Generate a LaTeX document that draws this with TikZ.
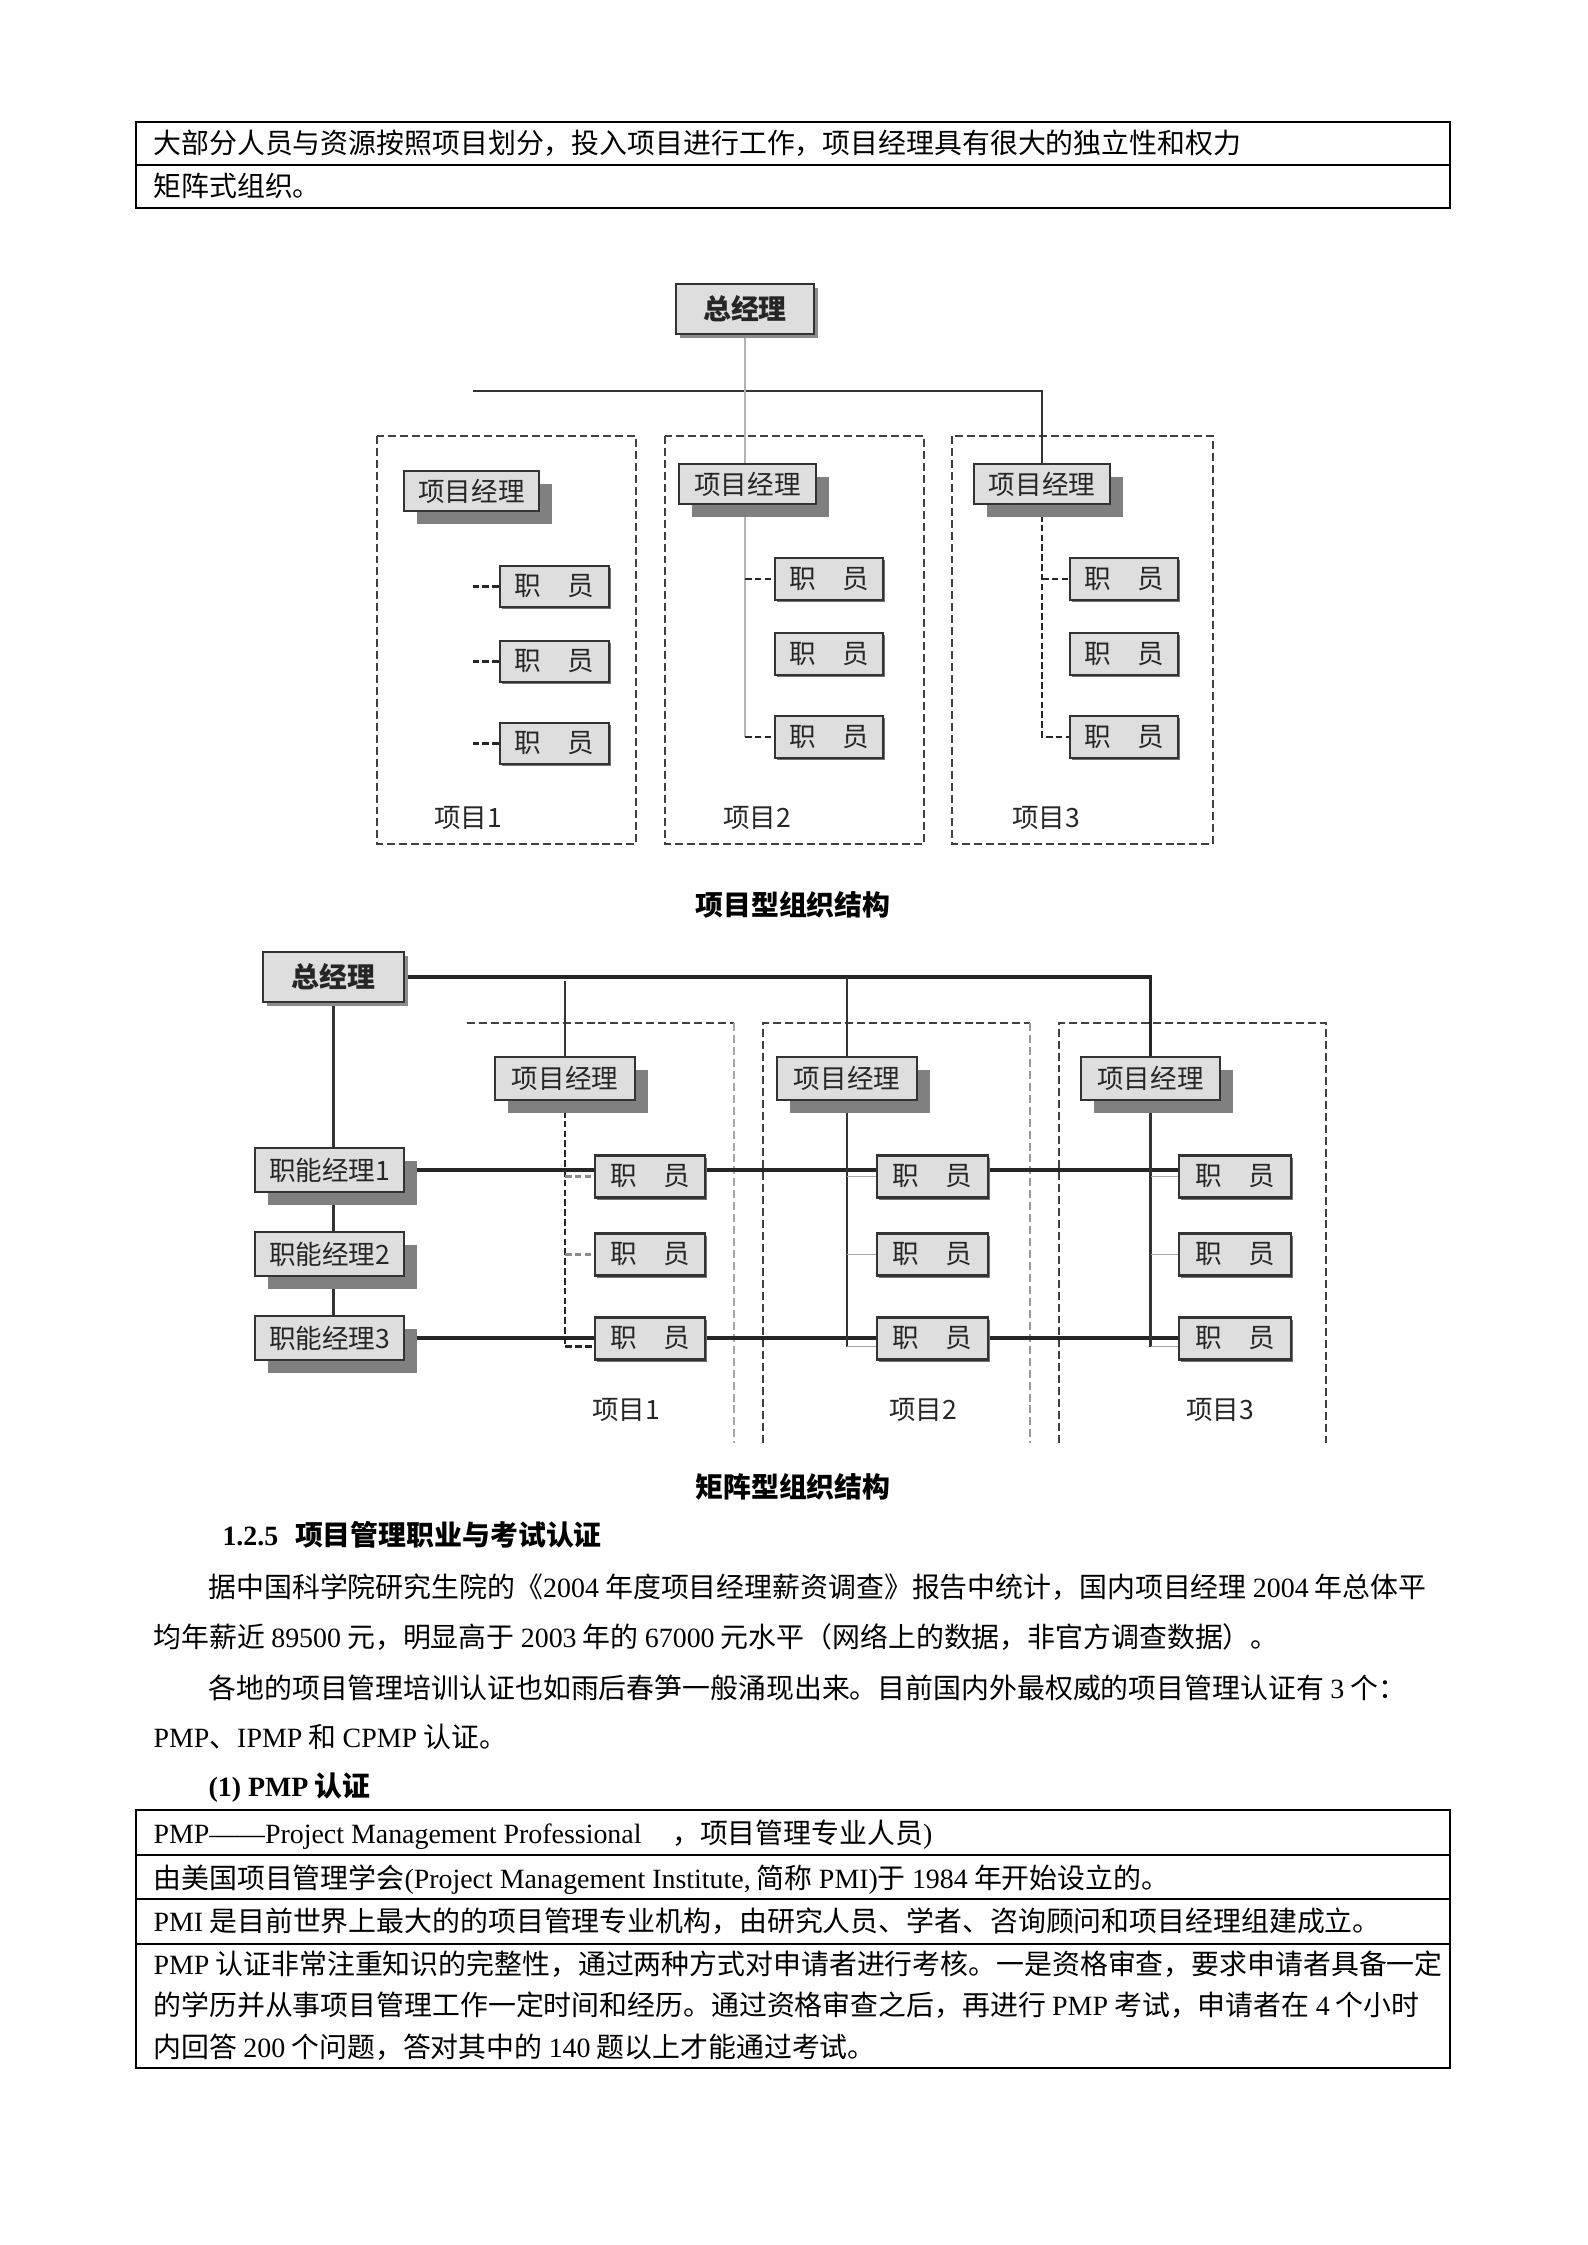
\documentclass[tikz,border=0pt]{standalone}
\usepackage{fontspec}
\setmainfont{Noto Sans CJK SC}
\newfontfamily\lat{Liberation Serif}
\usetikzlibrary{shadows,backgrounds}
\begin{document}
\begin{tikzpicture}[x=0.3765pt, y=-0.3765pt,
  wh/.style 2 args={minimum width=#1*0.3765pt, minimum height=#2*0.3765pt},
  txt/.style={anchor=base west, inner sep=0pt, font=\fontsize{10.5pt}{12pt}\selectfont},
  btxt/.style={anchor=base west, inner sep=0pt, font=\bfseries\fontsize{10.5pt}{12pt}\selectfont},
  captxt/.style={anchor=base, inner sep=0pt, font=\bfseries\fontsize{10.5pt}{12pt}\selectfont},
  tbl/.style={line width=0.8pt, draw=black},
  gbox/.style={draw=black!80, fill=black!13, line width=0.8pt, inner sep=0pt, text=black!85,
     font=\fontsize{10pt}{12pt}\selectfont},
  bigshadow/.style={drop shadow={shadow xshift=13*0.3765pt, shadow yshift=-13*0.3765pt, fill=black!50, opacity=1}},
  smallshadow/.style={drop shadow={shadow xshift=4*0.3765pt, shadow yshift=-4*0.3765pt, fill=black!45, opacity=1}},
  tinyshadow/.style={drop shadow={shadow xshift=2*0.3765pt, shadow yshift=-2*0.3765pt, fill=black!55, opacity=1}},
  sbox/.style={gbox, tinyshadow},
  lbl/.style={inner sep=0pt, text=black!85, font=\fontsize{10pt}{12pt}\selectfont},
  frame/.style={draw=black!75, line width=0.9pt, dash pattern=on 3pt off 1.5pt},
  conn/.style={draw=black!80, line width=0.9pt},
  thickline/.style={draw=black!85, line width=1.3pt},
  dstub/.style={draw=black!85, line width=0.8pt, dash pattern=on 2.5pt off 1.2pt},
  faint/.style={draw=black!30, line width=0.5pt},
  gstub/.style={draw=black!35, line width=0.7pt}
]
\useasboundingbox (0,0) rectangle (1587,2245);

% ---------- top table ----------
\draw[tbl] (136,122) rectangle (1450,208);
\draw[tbl] (136,165) -- (1450,165);
\node[txt] (t1) at (153,154) {大部分人员与资源按照项目划分，投入项目进行工作，项目经理具有很大的独立性和权力};
\node[txt] (t2) at (153,197) {矩阵式组织。};

% ---------- diagram 1 nodes ----------
\node[gbox, smallshadow, wh={138}{50}, font=\bfseries\fontsize{10.5pt}{12pt}\selectfont] (gm1) at (745,309) {总经理};
\node[gbox, bigshadow, wh={135}{40}] (pm1a) at (471.5,491) {项目经理};
\node[gbox, bigshadow, wh={137}{40}] (pm1b) at (747.5,484) {项目经理};
\node[gbox, bigshadow, wh={136}{40}] (pm1c) at (1042,484) {项目经理};
\node[sbox, wh={109}{41}] (a1) at (554.5,586.5) {职\quad 员};
\node[sbox, wh={109}{41}] (a2) at (554.5,661.5) {职\quad 员};
\node[sbox, wh={109}{41}] (a3) at (554.5,743.5) {职\quad 员};
\node[sbox, wh={108}{42}] (b1) at (829,579) {职\quad 员};
\node[sbox, wh={108}{42}] (b2) at (829,654) {职\quad 员};
\node[sbox, wh={108}{42}] (b3) at (829,737) {职\quad 员};
\node[sbox, wh={108}{42}] (c1) at (1124,579) {职\quad 员};
\node[sbox, wh={108}{42}] (c2) at (1124,654) {职\quad 员};
\node[sbox, wh={108}{42}] (c3) at (1124,737) {职\quad 员};
\node[lbl] (l1) at (468,818) {项目1};
\node[lbl] (l2) at (757,818) {项目2};
\node[lbl] (l3) at (1046,818) {项目3};
\node[captxt] (cap1) at (793,915) {项目型组织结构};

% ---------- diagram 2 nodes ----------
\node[gbox, smallshadow, wh={141}{50}, font=\bfseries\fontsize{10.5pt}{12pt}\selectfont] (gm2) at (333.5,977) {总经理};
\node[gbox, bigshadow, wh={149}{44}] (fm1) at (329.5,1170) {职能经理1};
\node[gbox, bigshadow, wh={149}{44}] (fm2) at (329.5,1254) {职能经理2};
\node[gbox, bigshadow, wh={149}{44}] (fm3) at (329.5,1338) {职能经理3};
\node[gbox, bigshadow, wh={140}{43}] (pm2a) at (565,1078.5) {项目经理};
\node[gbox, bigshadow, wh={140}{43}] (pm2b) at (847,1078.5) {项目经理};
\node[gbox, bigshadow, wh={139}{43}] (pm2c) at (1150.5,1078.5) {项目经理};
\node[sbox, wh={110}{42}] (m11) at (650,1176.5) {职\quad 员};
\node[sbox, wh={110}{42}] (m12) at (650,1254.5) {职\quad 员};
\node[sbox, wh={110}{42}] (m13) at (650,1338.5) {职\quad 员};
\node[sbox, wh={111}{42}] (m21) at (932.5,1176.5) {职\quad 员};
\node[sbox, wh={111}{42}] (m22) at (932.5,1254.5) {职\quad 员};
\node[sbox, wh={111}{42}] (m23) at (932.5,1338.5) {职\quad 员};
\node[sbox, wh={112}{42}] (m31) at (1235,1176.5) {职\quad 员};
\node[sbox, wh={112}{42}] (m32) at (1235,1254.5) {职\quad 员};
\node[sbox, wh={112}{42}] (m33) at (1235,1338.5) {职\quad 员};
\node[lbl] (k1) at (626,1410) {项目1};
\node[lbl] (k2) at (923,1410) {项目2};
\node[lbl] (k3) at (1220,1410) {项目3};
\node[captxt] (cap2) at (793,1497) {矩阵型组织结构};

% ---------- connectors (behind boxes) ----------
\begin{pgfonlayer}{background}
\fill[white] (0,0) rectangle (1587,2245);
% diagram 1 frames
\draw[frame] (377,436) rectangle (636,844);
\draw[frame] (665,436) rectangle (924,844);
\draw[frame] (952,436) rectangle (1213,844);
% diagram 1 lines
\coordinate (h1L) at (473,391);
\draw[conn] (h1L) -| (pm1c.north);
\draw[faint] (gm1.south) -- (gm1.south |- b3.west);
\draw[dstub] (gm1.south |- b1.west) -- (b1.west);
\draw[dstub] (gm1.south |- b3.west) -- (b3.west);
\draw[dstub] (a1.west) -- ([xshift=-27*0.3765pt]a1.west);
\draw[dstub] (a2.west) -- ([xshift=-27*0.3765pt]a2.west);
\draw[dstub] (a3.west) -- ([xshift=-27*0.3765pt]a3.west);
\draw[dstub] (pm1c.south) -- (pm1c.south |- c3.west) -- (c3.west);
\draw[dstub] (pm1c.south |- c1.west) -- (c1.west);
% diagram 2 frames
\draw[frame] (467,1023) -- (734,1023);
\draw[frame, draw=black!35, line width=0.6pt] (734,1023) -- (734,1443);
\draw[frame] (763,1443) -- (763,1023) -- (1030,1023);
\draw[frame, draw=black!40, line width=0.7pt] (1030,1023) -- (1030,1443);
\draw[frame] (1059,1443) -- (1059,1023) -- (1326,1023) -- (1326,1443);
% diagram 2 lines
\draw[thickline] (gm2.east) -| (pm2c.north);
\draw[conn] (pm2b.north) -- (pm2b.north |- gm2.east);
\coordinate (p1top) at (565,981);
\draw[conn] (p1top) -- (pm2a.north);
\draw[conn] (gm2.south) -- (gm2.south |- fm1.north);
\draw[conn] (gm2.south |- fm1.south) -- (gm2.south |- fm2.north);
\draw[conn] (gm2.south |- fm2.south) -- (gm2.south |- fm3.north);
\draw[thickline] (fm1.east) -- (fm1.east -| m31.west);
\draw[thickline] (fm3.east) -- (fm3.east -| m33.west);
\coordinate (m13w) at ([yshift=-8*0.3765pt]m13.west);
\coordinate (m23w) at ([yshift=-8*0.3765pt]m23.west);
\coordinate (m33w) at ([yshift=-8*0.3765pt]m33.west);
\draw[dstub] (pm2a.south) -- (pm2a.south |- m13w) -- (m13w);
\draw[dstub, draw=black!45] (pm2a.south |- m11.west) -- (m11.west);
\draw[dstub, draw=black!45] (pm2a.south |- m12.west) -- (m12.west);
\draw[conn] (pm2b.south) -- (pm2b.south |- m23w);
\draw[gstub] (pm2b.south |- m23w) -- (m23w);
\draw[gstub] (pm2b.south |- m21.west) -- (m21.west);
\draw[gstub] (pm2b.south |- m22.west) -- (m22.west);
\draw[conn] (pm2c.south) -- (pm2c.south |- m33w);
\draw[gstub] (pm2c.south |- m33w) -- (m33w);
\draw[gstub] (pm2c.south |- m31.west) -- (m31.west);
\draw[gstub] (pm2c.south |- m32.west) -- (m32.west);
\end{pgfonlayer}

% ---------- body text ----------
\node[btxt] (h125) at (222,1545) {{\lat\bfseries 1.2.5}\hspace{0.6em}项目管理职业与考试认证};
\node[txt] (p1) at (208,1597) {据中国科学院研究生院的《{\lat 2004} 年度项目经理薪资调查》报告中统计，国内项目经理 {\lat 2004} 年总体平};
\node[txt] (p2) at (153,1647) {均年薪近 {\lat 89500} 元，明显高于 {\lat 2003} 年的 {\lat 67000} 元水平（网络上的数据，非官方调查数据）。};
\node[txt] (p3) at (208,1698) {各地的项目管理培训认证也如雨后春笋一般涌现出来。目前国内外最权威的项目管理认证有 {\lat 3} 个：};
\node[txt] (p4) at (153,1747) {{\lat PMP}、{\lat IPMP} 和 {\lat CPMP} 认证。};
\node[btxt] (h1) at (208,1796) {{\lat\bfseries (1) PMP} 认证};

% ---------- bottom table ----------
\draw[tbl] (136,1810) rectangle (1450,2068);
\draw[tbl] (136,1855) -- (1450,1855);
\draw[tbl] (136,1899) -- (1450,1899);
\draw[tbl] (136,1944) -- (1450,1944);
\node[txt] (r1) at (153,1843) {{\lat PMP——Project Management Professional}\hspace{1.1em}，项目管理专业人员{\lat )}};
\node[txt] (r2) at (153,1888) {由美国项目管理学会{\lat (Project Management Institute,} 简称 {\lat PMI)}于 {\lat 1984} 年开始设立的。};
\node[txt] (r3) at (153,1931) {{\lat PMI} 是目前世界上最大的的项目管理专业机构，由研究人员、学者、咨询顾问和项目经理组建成立。};
\node[txt] (r4a) at (153,1974) {{\lat PMP} 认证非常注重知识的完整性，通过两种方式对申请者进行考核。一是资格审查，要求申请者具备一定};
\node[txt] (r4b) at (153,2015) {的学历并从事项目管理工作一定时间和经历。通过资格审查之后，再进行 {\lat PMP} 考试，申请者在 {\lat 4} 个小时};
\node[txt] (r4c) at (153,2057) {内回答 {\lat 200} 个问题，答对其中的 {\lat 140} 题以上才能通过考试。};
\end{tikzpicture}
\end{document}
